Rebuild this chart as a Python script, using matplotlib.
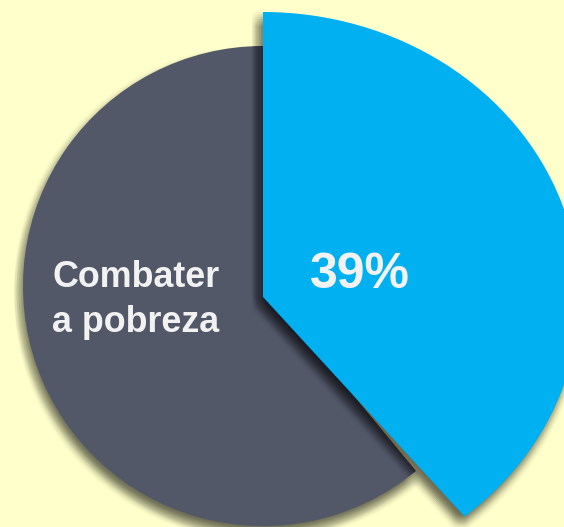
import matplotlib
matplotlib.use("Agg")
import matplotlib.pyplot as plt
from matplotlib import patheffects
from matplotlib.transforms import Affine2D

# data
shares = [39, 61]
pct_label = "39%"
category_lines = ["Combater", "a pobreza"]

bg = "#FFFFCC"
dark = "#525868"
blue = "#00B0F0"
text_c = "#F2F2F2"

W, H = 564, 527


def blur_shadow(dx, dy, alpha=0.016, spread=1.6, n=7):
    # cheap blurred drop shadow: a grid of faint offset copies
    effects = []
    steps = [spread * (i - (n - 1) / 2) for i in range(n)]
    for sx in steps:
        for sy in steps:
            effects.append(
                patheffects.SimplePatchShadow(
                    offset=(dx + sx, dy + sy), shadow_rgbFace="black", alpha=alpha
                )
            )
    effects.append(patheffects.Normal())
    return effects


fig = plt.figure(figsize=(W / 100, H / 100), dpi=100, facecolor=bg)
ax = fig.add_axes([0, 0, 1, 1])
ax.set_facecolor(bg)

# main (dark) part of the pie
dark_cx, dark_cy, dark_r = 263, H - 286, 240
dark_w, _ = ax.pie(
    shares,
    colors=["none", dark],
    startangle=90,
    counterclock=False,
    radius=dark_r,
    center=(dark_cx, dark_cy),
    wedgeprops=dict(linewidth=0),
)
dark_w[0].set_visible(False)
dark_w[1].set_path_effects(blur_shadow(-1.5, -5))

# exploded, enlarged blue slice
blue_cx, blue_cy, blue_r = 263, H - 297, 285
blue_w, _ = ax.pie(
    shares,
    colors=[blue, "none"],
    startangle=90,
    counterclock=False,
    radius=blue_r,
    center=(blue_cx, blue_cy),
    wedgeprops=dict(linewidth=0),
)
blue_w[1].set_visible(False)
stretch = Affine2D().translate(-blue_cx, -blue_cy).scale(1.11, 1).translate(blue_cx, blue_cy)
blue_w[0].set_transform(stretch + ax.transData)
blue_w[0].set_path_effects(blur_shadow(-3, -5))

font = dict(family=["Liberation Sans", "DejaVu Sans"], fontweight="bold", color=text_c)
ax.text(52, H - 287, category_lines[0], fontsize=25.8, ha="left", va="baseline", **font)
ax.text(52, H - 332, category_lines[1], fontsize=25.8, ha="left", va="baseline", **font)
ax.text(360, H - 288, pct_label, fontsize=36, ha="center", va="baseline", **font)

ax.set_aspect("auto")
ax.set_xlim(0, W)
ax.set_ylim(0, H)
ax.axis("off")

fig.savefig("out.png", dpi=100, facecolor=bg)
